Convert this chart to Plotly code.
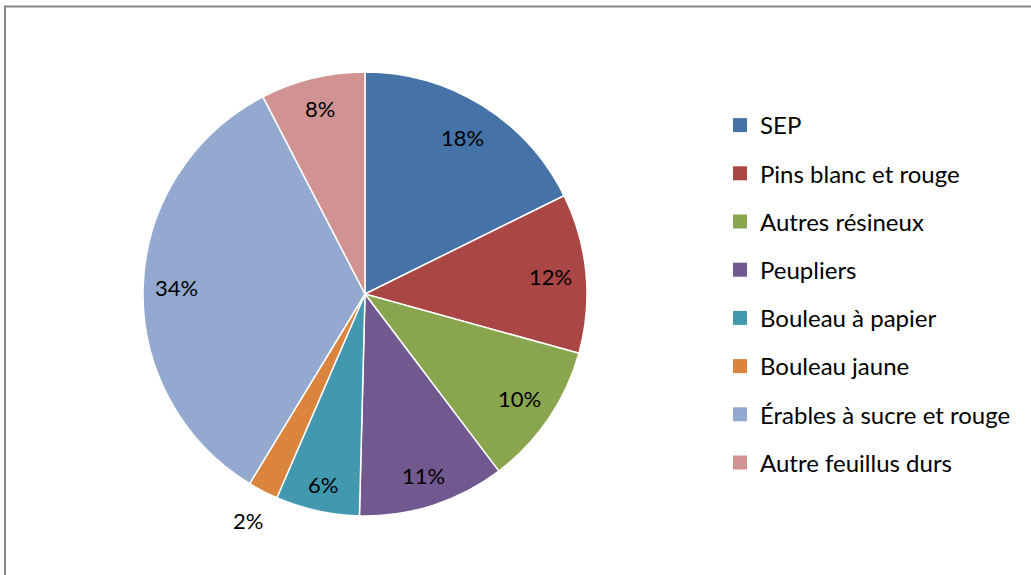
import math
import plotly.graph_objects as go

categories = ["SEP", "Pins blanc et rouge", "Autres résineux", "Peupliers",
              "Bouleau à papier", "Bouleau jaune", "Érables à sucre et rouge",
              "Autre feuillus durs"]
values = [17.7, 11.6, 10.4, 10.7, 6.1, 2.2, 33.7, 7.6]
colors = ["#4572A7", "#AA4643", "#89A54E", "#71588F", "#4198AF", "#DB843D",
          "#93A9CF", "#D19392"]
label_radius = [0.83, 0.84, 0.84, 0.86, 0.88, 1.15, 0.85, 0.86]

W, H = 1031, 575
FONT = "Lato"
CX, CY, R = 365, 294, 222  # pie centre (px from top-left) and radius

fig = go.Figure()
fig.add_trace(go.Pie(
    labels=categories, values=values, sort=False, direction="clockwise",
    rotation=0,
    marker=dict(colors=colors, line=dict(color="white", width=1.5)),
    textinfo="none", showlegend=False, hoverinfo="label+percent",
    domain=dict(x=[(CX - R) / W, (CX + R) / W],
                y=[(H - CY - R) / H, (H - CY + R) / H]),
))

for cat, col in zip(categories, colors):
    fig.add_trace(go.Scatter(
        x=[None], y=[None], mode="markers", name=cat, legendgroup=cat,
        marker=dict(symbol="square", size=14, color=col),
        showlegend=True, hoverinfo="skip"))

# percentage labels placed at the middle angle of each slice
total = sum(values)
annotations = []
cum = 0.0
for v, lr in zip(values, label_radius):
    mid = (cum + v / 2) / total * 2 * math.pi
    cum += v
    px = CX + lr * R * math.sin(mid)
    py = CY - lr * R * math.cos(mid)
    annotations.append(dict(
        x=px / W, y=1 - py / H, xref="paper", yref="paper",
        text=f"{round(v / total * 100)}%", showarrow=False,
        xanchor="center", yanchor="middle",
        font=dict(family=FONT, size=22, color="black")))

fig.update_layout(
    width=W, height=H, margin=dict(l=0, r=0, t=0, b=0),
    paper_bgcolor="white", plot_bgcolor="white",
    xaxis=dict(visible=False), yaxis=dict(visible=False),
    legend=dict(x=720 / W, y=1 - 103 / H, xanchor="left", yanchor="top",
                traceorder="grouped", tracegroupgap=14,
                font=dict(family=FONT, size=24, color="black"),
                bgcolor="rgba(0,0,0,0)"),
    annotations=annotations,
    shapes=[dict(type="rect", xref="paper", yref="paper",
                 x0=5 / W, x1=1.05, y0=-0.05, y1=1 - 6.5 / H,
                 line=dict(color="#868686", width=2))],
)

fig.write_html("out.html", config={"displayModeBar": False},
               post_script="document.body.style.margin='0';")
